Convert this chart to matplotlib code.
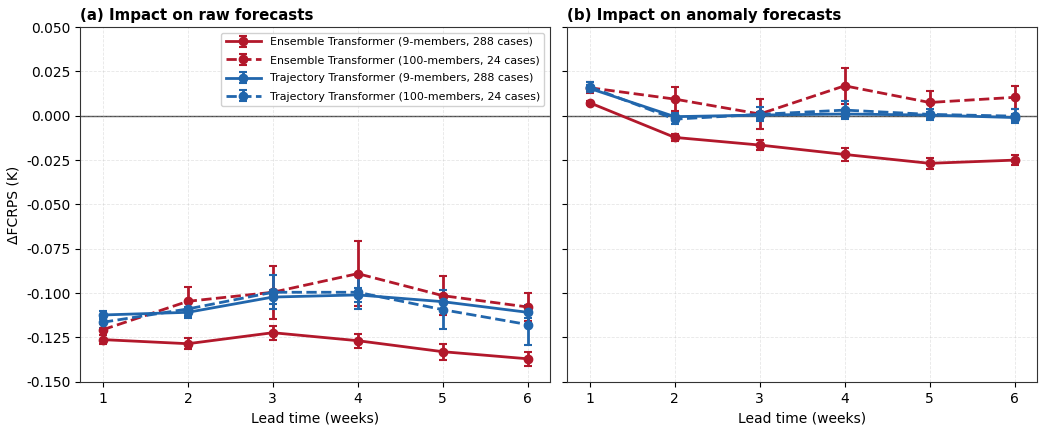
import numpy as np
import matplotlib.pyplot as plt

# Lead times (weeks)
weeks = [1, 2, 3, 4, 5, 6]

# (a) raw forecasts: delta FCRPS (K) and error bars
raw_ens9 = [-0.1262, -0.1285, -0.1223, -0.1268, -0.1330, -0.1370]
raw_ens9_err = [0.0025, 0.003, 0.004, 0.004, 0.0045, 0.004]
raw_ens100 = [-0.1206, -0.1046, -0.0995, -0.0890, -0.1014, -0.1078]
raw_ens100_err = [0.003, 0.008, 0.0148, 0.0185, 0.011, 0.008]
raw_traj9 = [-0.1123, -0.1108, -0.1022, -0.1010, -0.1048, -0.1108]
raw_traj9_err = [0.002, 0.003, 0.004, 0.004, 0.004, 0.003]
raw_traj100 = [-0.1164, -0.1089, -0.0995, -0.0995, -0.1093, -0.1177]
raw_traj100_err = [0.003, 0.004, 0.0096, 0.0096, 0.011, 0.0113]

# (b) anomaly forecasts
ano_ens9 = [0.0073, -0.0122, -0.0165, -0.0218, -0.0268, -0.0250]
ano_ens9_err = [0.001, 0.002, 0.003, 0.0035, 0.003, 0.003]
ano_ens100 = [0.0158, 0.0094, 0.0010, 0.0169, 0.0075, 0.0104]
ano_ens100_err = [0.003, 0.0066, 0.0083, 0.0103, 0.0066, 0.0066]
ano_traj9 = [0.0154, -0.0005, 0.0004, 0.0010, 0.0004, -0.0010]
ano_traj9_err = [0.002, 0.002, 0.002, 0.002, 0.002, 0.002]
ano_traj100 = [0.0163, -0.0019, 0.0008, 0.0032, 0.0008, -0.0002]
ano_traj100_err = [0.003, 0.003, 0.004, 0.005, 0.003, 0.004]

yticks = [-0.150, -0.125, -0.100, -0.075, -0.050, -0.025, 0.000, 0.025, 0.050]

labels = ["Ensemble Transformer (9-members, 288 cases)",
          "Ensemble Transformer (100-members, 24 cases)",
          "Trajectory Transformer (9-members, 288 cases)",
          "Trajectory Transformer (100-members, 24 cases)"]
red = "#b2182b"
blue = "#2166ac"
colors = [red, red, blue, blue]
styles = ["-", "--", "-", "--"]

panels = [
    ("(a) Impact on raw forecasts",
     [raw_ens9, raw_ens100, raw_traj9, raw_traj100],
     [raw_ens9_err, raw_ens100_err, raw_traj9_err, raw_traj100_err]),
    ("(b) Impact on anomaly forecasts",
     [ano_ens9, ano_ens100, ano_traj9, ano_traj100],
     [ano_ens9_err, ano_ens100_err, ano_traj9_err, ano_traj100_err]),
]

fig = plt.figure(figsize=(10.46, 4.3), dpi=100)
ax1 = fig.add_axes([0.0765, 0.112, 0.449, 0.825])
ax2 = fig.add_axes([0.542, 0.112, 0.449, 0.825], sharey=ax1)

for ax, (title, series, errs) in zip([ax1, ax2], panels):
    ax.axhline(0, color="black", linewidth=1, alpha=0.7, zorder=1)
    for vals, err, c, ls, lab in zip(series, errs, colors, styles, labels):
        ax.errorbar(weeks, vals, yerr=err, color=c, linestyle=ls, linewidth=2,
                    marker="o", markersize=6, capsize=3, capthick=1.5,
                    elinewidth=2, label=lab, zorder=3)
    ax.set_title(title, loc="left", fontweight="bold", fontsize=10.8, pad=5)
    ax.set_xlabel("Lead time (weeks)", fontsize=10)
    ax.set_xticks(weeks)
    ax.set_xlim(0.73, 6.26)
    ax.grid(True, linestyle="--", alpha=0.3, linewidth=0.6)
    for s in ax.spines.values():
        s.set_color("#333333")

ax1.set_ylim(-0.15, 0.05)
ax1.set_yticks(yticks)
ax1.set_yticklabels(["%.3f" % v if v != 0 else "0.000" for v in yticks])
ax1.set_ylabel("ΔFCRPS (K)", fontsize=10)
plt.setp(ax2.get_yticklabels(), visible=False)
ax1.legend(loc="upper right", fontsize=7.9, framealpha=0.9,
           handlelength=3.2, labelspacing=0.75)

fig.savefig("out.png", dpi=100)
